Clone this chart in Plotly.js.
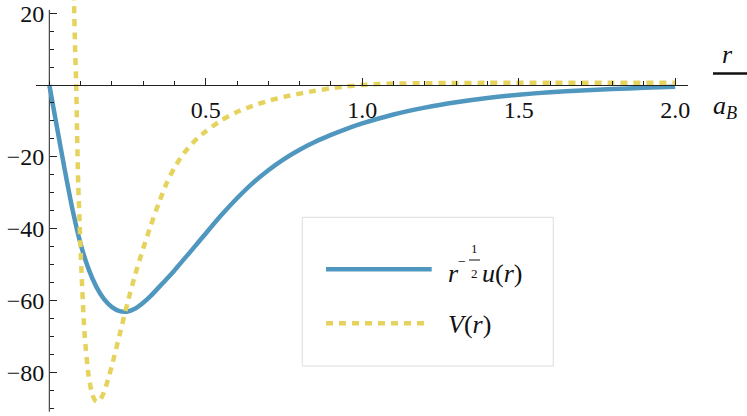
<!DOCTYPE html>
<html>
<head>
<meta charset="utf-8">
<script src="https://cdn.plot.ly/plotly-3.0.1.min.js"></script>
<style>
html,body{margin:0;padding:0;background:#fff;}
#chart{width:747px;height:416px;}
</style>
</head>
<body>
<div id="chart"></div>
<script>
// ---- data ----
const rU = [0, 0.025, 0.05, 0.075, 0.1, 0.125, 0.15, 0.175, 0.2, 0.225, 0.25, 0.275, 0.3, 0.325, 0.35, 0.375, 0.4, 0.425, 0.45, 0.475, 0.5, 0.55, 0.6, 0.65, 0.7, 0.75, 0.8, 0.85, 0.9, 0.95, 1.0, 1.1, 1.2, 1.3, 1.4, 1.5, 1.6, 1.7, 1.8, 1.9, 2.0];
const uValues = [0, -12.0, -23.9, -35.0, -44.2, -51.1, -56.1, -59.6, -61.8, -62.9, -63.0, -62.2, -60.6, -58.6, -56.3, -54.0, -51.6, -49.0, -46.5, -43.9, -41.3, -36.2, -31.5, -27.3, -23.7, -20.6, -18.0, -15.8, -13.9, -12.2, -10.7, -8.2, -6.3, -4.8, -3.6, -2.7, -2.0, -1.5, -1.1, -0.8, -0.5];

const rV = [0.076, 0.079, 0.0825, 0.086, 0.0885, 0.0925, 0.096, 0.1, 0.1125, 0.125, 0.1375, 0.15, 0.1625, 0.175, 0.1875, 0.2, 0.225, 0.25, 0.275, 0.3, 0.325, 0.35, 0.375, 0.4, 0.425, 0.45, 0.475, 0.5, 0.55, 0.6, 0.65, 0.7, 0.75, 0.8, 0.85, 0.9, 0.95, 1.0, 1.05, 1.1, 1.2, 1.3, 1.4, 1.6, 1.8, 2.0];
const vValues = [40, 23, 10, 0, -12, -28, -36, -46, -69, -80.5, -86.2, -88.1, -87.6, -85.4, -82.0, -78.1, -69.4, -60.6, -52.6, -45.5, -38.9, -32.8, -27.3, -23.0, -19.6, -16.9, -14.7, -12.9, -9.8, -7.5, -5.8, -4.4, -3.3, -2.4, -1.6, -0.9, -0.4, 0, 0.25, 0.4, 0.5, 0.55, 0.6, 0.6, 0.6, 0.6];

const xTickVals = [0.5, 1.0, 1.5, 2.0];
const xTickText = ["0.5", "1.0", "1.5", "2.0"];
const yTickVals = [-80, -60, -40, -20, 20];
const yTickText = ["\u221280", "\u221260", "\u221240", "\u221220", "20"];

// ---- layout ----
const W = 747, H = 416;
const mL = 36, mR = 59;
const plotW = W - mL - mR;
const xRange = [-0.0425, 2.041];
const yRange = [-92.1, 23.65];
const yAxisSpan = [-90.9, 20.9];
const px = p => (p - mL) / plotW;
const py = p => 1 - p / H;

const blue = "#5097c0";
const yellow = "#e5d35e";
const axisColor = "#222";
const serif = '"Liberation Serif", "DejaVu Serif", serif';

const traces = [
  {x: rU, y: uValues, type: "scatter", mode: "lines", line: {color: blue, width: 4.5, shape: "spline", smoothing: 0.7}, hoverinfo: "skip"},
  {x: rV, y: vValues, type: "scatter", mode: "lines", line: {color: yellow, width: 4.5, dash: "7px,6px", shape: "spline", smoothing: 0.6}, hoverinfo: "skip"}
];

const tickFont = {family: serif, size: 24, color: "#111"};

const layout = {
  width: W, height: H,
  margin: {l: mL, r: mR, t: 0, b: 0},
  paper_bgcolor: "#fff", plot_bgcolor: "#fff",
  font: {family: serif},
  showlegend: false,
  xaxis: {
    range: xRange, anchor: "free",
    position: (0 - yRange[0]) / (yRange[1] - yRange[0]),
    showline: true, linecolor: axisColor, linewidth: 1,
    showgrid: false, zeroline: false,
    tickmode: "array", tickvals: xTickVals, ticktext: xTickText,
    ticks: "inside", ticklen: 7, tickwidth: 1, tickcolor: axisColor,
    minor: {tick0: 0, dtick: 0.1, ticks: "inside", ticklen: 4, tickwidth: 1, tickcolor: axisColor, showgrid: false},
    tickfont: tickFont, automargin: false, ticklabelstandoff: 3
  },
  yaxis: {
    range: yRange, anchor: "free",
    position: (0 - xRange[0]) / (xRange[1] - xRange[0]),
    showline: false,
    showgrid: false, zeroline: false,
    tickmode: "array", tickvals: yTickVals, ticktext: yTickText,
    ticks: "inside", ticklen: 7, tickwidth: 1, tickcolor: axisColor,
    minor: {tick0: 0, dtick: 5, ticks: "inside", ticklen: 4, tickwidth: 1, tickcolor: axisColor, showgrid: false},
    tickfont: tickFont, automargin: false, ticklabelstandoff: 5
  },
  shapes: [
    {type: "line", xref: "x", yref: "y", x0: 0, x1: 0, y0: yAxisSpan[0], y1: yAxisSpan[1], line: {color: axisColor, width: 1}, layer: "below"},
    {type: "rect", xref: "paper", yref: "paper", x0: px(302.3), x1: px(553.3), y0: py(366), y1: py(217.3), line: {color: "#dcdcdc", width: 1}, fillcolor: "#fff", layer: "above"},
    {type: "line", xref: "paper", yref: "paper", x0: px(326), x1: px(431.7), y0: py(269.3), y1: py(269.3), line: {color: blue, width: 4.5}, layer: "above"},
    {type: "line", xref: "paper", yref: "paper", x0: px(326), x1: px(425), y0: py(323.3), y1: py(323.3), line: {color: yellow, width: 4.5, dash: "7px,6px"}, layer: "above"},
    {type: "line", xref: "paper", yref: "paper", x0: px(469), x1: px(480), y0: py(260), y1: py(260), line: {color: "#111", width: 1}, layer: "above"},
    {type: "line", xref: "paper", yref: "paper", x0: px(713), x1: px(747), y0: py(73.5), y1: py(73.5), line: {color: "#111", width: 2.5}, layer: "above"}
  ],
  annotations: [
    {xref: "paper", yref: "paper", x: px(446), y: py(273), xanchor: "left", yanchor: "middle", text: "<i>r</i>", showarrow: false, font: {family: serif, size: 26, color: "#111"}},
    {xref: "paper", yref: "paper", x: px(455.5), y: py(261), xanchor: "left", yanchor: "middle", text: "\u2212", showarrow: false, font: {family: serif, size: 14, color: "#111"}},
    {xref: "paper", yref: "paper", x: px(474.5), y: py(248), xanchor: "center", yanchor: "middle", text: "1", showarrow: false, font: {family: serif, size: 13, color: "#111"}},
    {xref: "paper", yref: "paper", x: px(474.5), y: py(273), xanchor: "center", yanchor: "middle", text: "2", showarrow: false, font: {family: serif, size: 13, color: "#111"}},
    {xref: "paper", yref: "paper", x: px(480), y: py(273), xanchor: "left", yanchor: "middle", text: "<i>u</i>(<i>r</i>)", showarrow: false, font: {family: serif, size: 26, color: "#111"}},
    {xref: "paper", yref: "paper", x: px(446), y: py(324), xanchor: "left", yanchor: "middle", text: "<i>V</i>(<i>r</i>)", showarrow: false, font: {family: serif, size: 26, color: "#111"}},
    {xref: "paper", yref: "paper", x: px(727), y: py(55), xanchor: "center", yanchor: "middle", text: "<i>r</i>", showarrow: false, font: {family: serif, size: 26, color: "#111"}},
    {xref: "paper", yref: "paper", x: px(711), y: py(107), xanchor: "left", yanchor: "middle", text: "<i>a</i><sub><i>B</i></sub>", showarrow: false, font: {family: serif, size: 26, color: "#111"}}
  ]
};

Plotly.newPlot("chart", traces, layout, {staticPlot: true, displayModeBar: false});
</script>
</body>
</html>
